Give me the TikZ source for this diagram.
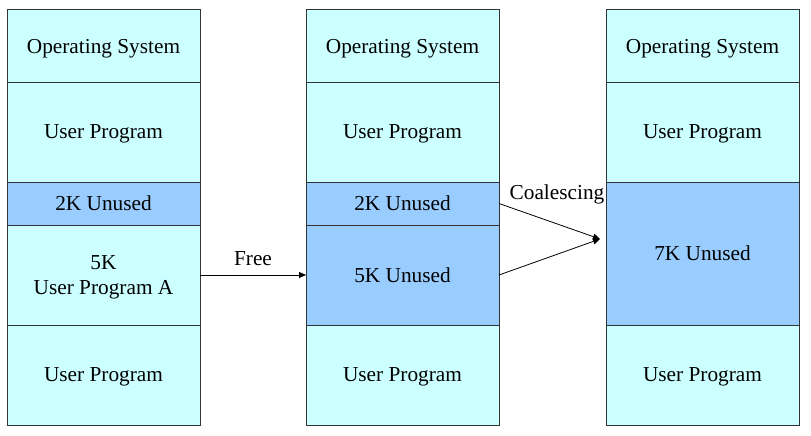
\documentclass[tikz,border=0pt]{standalone}
\usepackage{fontspec}
\setmainfont{Liberation Serif}
\usetikzlibrary{arrows.meta}
\definecolor{lcyan}{HTML}{CCFFFF}
\definecolor{lblue}{HTML}{99CCFF}
\definecolor{edge}{HTML}{333333}
\begin{document}
\begin{tikzpicture}[x=1pt,y=-1pt,
  cell/.style={draw=edge,line width=1pt,minimum width=193pt,inner sep=0pt,outer sep=0pt,
    font=\fontsize{21.3}{25}\selectfont,align=center,anchor=north west,text depth=-1pt},
  freecell/.style={cell,fill=lblue},
  usedcell/.style={cell,fill=lcyan},
  lbl/.style={font=\fontsize{21.3}{25}\selectfont},
  arr/.style={line width=0.8pt,-{Triangle[length=7pt,width=6pt]}}]
\useasboundingbox (0,0) rectangle (811,436);
% column A
\node[usedcell,minimum height=72pt] (aos) at (7,10) {Operating System};
\node[usedcell,minimum height=100pt] (aup) at (7,82) {User Program};
\node[freecell,minimum height=43pt] (a2k) at (7,182) {2K Unused};
\node[usedcell,minimum height=100pt] (a5k) at (7,225) {5K\\User Program A};
\node[usedcell,minimum height=100pt] (aub) at (7,325) {User Program};
% column B
\node[usedcell,minimum height=72pt] (bos) at (306,10) {Operating System};
\node[usedcell,minimum height=100pt] (bup) at (306,82) {User Program};
\node[freecell,minimum height=43pt] (b2k) at (306,182) {2K Unused};
\node[freecell,minimum height=100pt] (b5k) at (306,225) {5K Unused};
\node[usedcell,minimum height=100pt] (bub) at (306,325) {User Program};
% column C
\node[usedcell,minimum height=72pt] (cos) at (606,10) {Operating System};
\node[usedcell,minimum height=100pt] (cup) at (606,82) {User Program};
\node[freecell,minimum height=143pt] (c7k) at (606,182) {7K Unused};
\node[usedcell,minimum height=100pt] (cub) at (606,325) {User Program};
% arrows
\draw[arr] (a5k.east) -- node[lbl,above=6pt] (free) {Free} (b5k.west);
\coordinate (merge) at (600,239);
\draw[arr] (b2k.east) -- (merge);
\draw[arr] (b5k.east) -- (merge);
\node[lbl] (coal) at (557,194) {Coalescing};
\end{tikzpicture}
\end{document}
